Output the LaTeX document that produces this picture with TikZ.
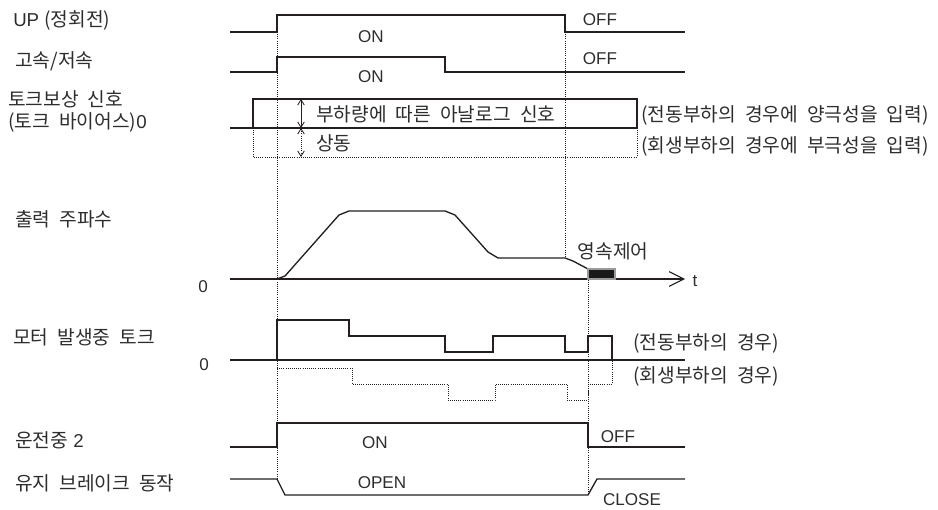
\documentclass[tikz,border=0pt]{standalone}
\usepackage{fontspec}
\setmainfont{Liberation Sans}
\newfontfamily\kr[WordSpace=2.1]{Noto Sans CJK KR}
\newcommand{\lat}[1]{{\fontspec{Liberation Sans}\fontsize{14}{16}\selectfont #1}}
\usetikzlibrary{arrows.meta}
\definecolor{lineDark}{HTML}{231F20}
\definecolor{textDark}{HTML}{2D2D2D}
\definecolor{boxEdge}{HTML}{9A9A9A}

\begin{document}
\begin{tikzpicture}[x=0.75pt, y=-0.75pt,
    sig/.style={line width=1pt, lineDark, line join=miter},
    guia/.style={densely dotted, line width=0.6pt, lineDark},
    lbl/.style={anchor=west, inner sep=0pt, font=\kr\fontsize{14.4}{16}\selectfont, text=textDark},
    st/.style={inner sep=0pt, font=\fontsize{12.8}{14}\selectfont, text=textDark},
    ar/.style={{Straight Barb[length=4pt, width=5pt]}-{Straight Barb[length=4pt, width=5pt]}, line width=0.6pt, lineDark},
    eje/.style={-{Straight Barb[length=11pt, width=11pt]}, line width=0.8pt, lineDark}]
  \useasboundingbox (0,0) rectangle (938,510);

  % guias punteadas
  \draw[guia] (277,32) -- (277,479);
  \draw[guia] (565,32) -- (565,260);
  \draw[guia] (588,269) -- (588,495);
  \draw[guia] (253,128) -- (253,157) -- (637,157) -- (637,128);

  % UP
  \draw[sig] (230,32) -- (277,32) -- (277,15) -- (565,15) -- (565,32) -- (685,32);
  % alta / baja
  \draw[sig] (230,72) -- (277,72) -- (277,57) -- (445,57) -- (445,72) -- (685,72);
  % bias
  \draw[sig] (230,128) -- (637,128);
  \draw[line width=2pt, lineDark] (245,128) -- (253,128);
  \draw[sig] (253,128) -- (253,99) -- (637,99) -- (637,128);
  \coordinate (b0) at (301,128);
  \coordinate (b1) at (301,99);
  \coordinate (b2) at (301,157);
  \draw[ar] (b0) -- (b1);
  \draw[ar, densely dotted] (b0) -- (b2);

  % frecuencia
  \coordinate (t0) at (230,279);
  \coordinate (t1) at (685,279);
  \draw[eje] (t0) -- (t1);
  \draw[line width=2pt, lineDark] (262,279) -- (277,279);
  \draw[sig, line join=round] (277,279) -- (285,276) -- (339,215) -- (349,211) -- (445,211)
    -- (455,215) -- (488,252) -- (498,258) -- (565,258) -- (573,261) -- (588,269);
  \draw[draw=boxEdge, fill=black!90, line width=0.8pt] (588,269) rectangle (615,279);

  % par
  \draw[sig] (230,360) -- (685,360);
  \draw[sig] (277,360) -- (277,320) -- (349,320) -- (349,336) -- (445,336) -- (445,352)
    -- (493,352) -- (493,336) -- (565,336) -- (565,352) -- (588,352) -- (588,336)
    -- (612,336) -- (612,360);
  \draw[guia] (277,368) -- (352,368) -- (352,384) -- (448,384) -- (448,400) -- (495,400)
    -- (495,384) -- (567,384) -- (567,400) -- (588,400) -- (588,384) -- (612,384) -- (612,360);

  % en marcha
  \draw[sig] (230,447) -- (277,447) -- (277,423) -- (588,423) -- (588,447) -- (685,447);
  % freno
  \draw[sig] (230,479) -- (277,479) -- (285,495) -- (588,495) -- (597,479) -- (685,479);

  % etiquetas
  \node[lbl] (nUp) at (13,20) {\lat{UP\ }(정회전)};
  \node[lbl] (nVel) at (15,61) {고속/저속};
  \node[lbl] (nBias) at (8,99) {토크보상 신호};
  \node[lbl] (nBias2) at (8,122) {(토크 바이어스)\lat{0}};
  \node[lbl] (nFreq) at (15,219) {출력 주파수};
  \node[lbl] (nPar) at (13,337) {모터 발생중 토크};
  \node[lbl] (nRun) at (15,440) {운전중\lat{\ 2}};
  \node[lbl] (nFreno) at (15,483) {유지 브레이크 동작};
  \node[st] (z1) at (203,287) {0};
  \node[st] (z2) at (204,365) {0};
  \node[st] (tt) at (695,281) {t};

  \node[st] (on1) at (371,37) {ON};
  \node[st] (off1) at (600,20) {OFF};
  \node[st] (on2) at (371,77) {ON};
  \node[st] (off2) at (600,59) {OFF};
  \node[st] (on3) at (375,443) {ON};
  \node[st] (off3) at (618,437) {OFF};
  \node[st] (open) at (382,483) {OPEN};
  \node[st] (close) at (632,500) {CLOSE};

  \node[lbl] (carga) at (316,114) {부하량에 따른 아날로그 신호};
  \node[lbl] (mismo) at (316,143) {상동};
  \node[lbl] (pos) at (641,115) {(전동부하의 경우에 양극성을 입력)};
  \node[lbl] (neg) at (641,146) {(회생부하의 경우에 부극성을 입력)};
  \node[lbl, anchor=center] (creep) at (613,251) {영속제어};
  \node[lbl] (mot) at (633,343) {(전동부하의 경우)};
  \node[lbl] (gen) at (633,376) {(회생부하의 경우)};
\end{tikzpicture}
\end{document}
